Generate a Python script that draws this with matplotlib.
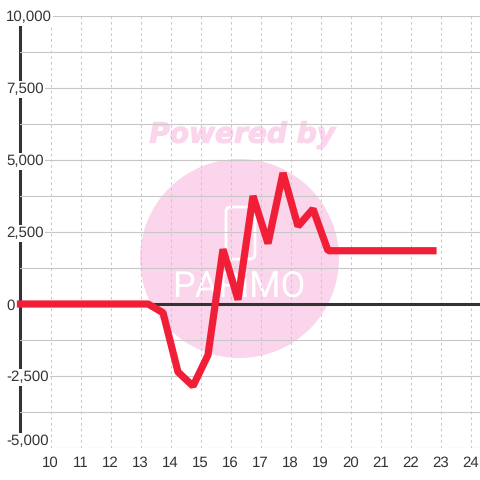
import matplotlib
matplotlib.use('Agg')
import matplotlib.pyplot as plt
import matplotlib.patheffects as pe
from matplotlib.patches import Circle, FancyBboxPatch
from matplotlib.transforms import Affine2D
from matplotlib.ticker import FuncFormatter

hours = [9, 13.25, 13.75, 14.25, 14.75, 15.25, 15.75, 16.25, 16.75, 17.25,
         17.75, 18.25, 18.75, 19.25, 22.75]
values = [0, 0, -300, -2360, -2850, -1770, 1900, 150, 3750, 2100,
          4550, 2700, 3300, 1850, 1850]
x_ticks = list(range(10, 25))
y_ticks = [-5000, -2500, 0, 2500, 5000, 7500, 10000]
y_minor = [-3750, -1250, 1250, 3750, 6250, 8750]

text_col = '#333333'
grid_col = '#c8c8c8'
pink = '#fbd5ec'

plt.rcParams['font.family'] = ['Liberation Sans', 'DejaVu Sans']
plt.rcParams['text.hinting'] = 'no_hinting'
plt.rcParams['text.hinting_factor'] = 1

fig = plt.figure(figsize=(4.8, 4.8), dpi=100)
ax = fig.add_axes([20 / 480, 32 / 480, 460 / 480, 432 / 480])
ax.set_xlim(10 - 30.5 / 30, 10 + 429.5 / 30)
ax.set_ylim(-5000, 10000)

# watermark, placed in pixels from the top left
px = Affine2D().scale(1, -1).translate(0, 480)
ax.add_patch(Circle((239.5, 258.5), 99.5, fc=pink, ec='none', transform=px, zorder=0.1))
ax.text(242, 135, 'Powered by', transform=px, color=pink, fontsize=20.2,
        family='DejaVu Sans', weight='bold', style='italic', ha='center', va='center',
        zorder=0.1, path_effects=[pe.withStroke(linewidth=0.8, foreground=pink)])
ax.add_patch(FancyBboxPatch((226, 207), 29, 52, boxstyle='round,pad=0,rounding_size=5',
                            fc='none', ec='white', lw=2, transform=px, zorder=0.2))
ax.text(239, 288, 'PARiMO', transform=px, color='white', fontsize=26,
        family='Roboto', ha='center', va='center', zorder=0.2)

for s in ['top', 'right', 'bottom']:
    ax.spines[s].set_visible(False)
ax.spines['left'].set_bounds(-4580, 9720)
ax.spines['left'].set_linewidth(2.2)
ax.spines['left'].set_color(text_col)
ax.spines['left'].set_zorder(0.4)

ax.set_axisbelow(True)
ax.set_xticks(x_ticks)
ax.set_yticks(y_ticks)
ax.set_yticks(y_minor, minor=True)
ax.yaxis.set_major_formatter(FuncFormatter(lambda v, p: f'{int(v):,}'))
ax.grid(axis='x', color=grid_col, lw=0.75, ls=(0, (2.5, 3)))
ax.grid(axis='y', which='both', color=grid_col, lw=0.8)
ax.tick_params(axis='both', which='both', length=0)
ax.tick_params(axis='x', labelsize=10.9, labelcolor=text_col, pad=5.5)
ax.tick_params(axis='y', labelsize=10.9, labelcolor=text_col, pad=10)
for lab, v in zip(ax.get_yticklabels(), y_ticks):
    lab.set_ha('left')
    lab.set_bbox(dict(fc='white', ec='none', pad=1))
    if v == -5000:
        lab.set_va('bottom')

ax.axhline(0, color=text_col, lw=2.2, zorder=4)
ax.plot(hours, values, color='#f01f37', lw=5.2, solid_joinstyle='bevel',
        solid_capstyle='projecting', clip_on=False, zorder=5)

fig.savefig('out.png', dpi=100)
